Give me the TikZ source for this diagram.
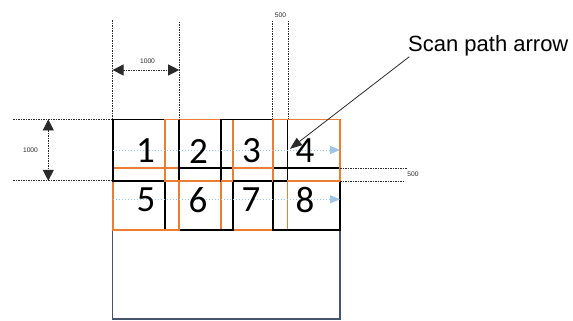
\documentclass[tikz,border=0pt]{standalone}
\usepackage{fontspec}
\setmainfont{Carlito}
\newfontfamily\arialfont{Liberation Sans}
\usetikzlibrary{arrows.meta}
\definecolor{tileorange}{HTML}{ED7D31}
\definecolor{scanblue}{HTML}{9DC3E6}
\definecolor{slate}{HTML}{44546A}
\definecolor{dimgray}{HTML}{2A2A2A}
\begin{document}
\begin{tikzpicture}[x=1bp,y=-1bp,
  blacktile/.style={draw=black,line width=1.8bp},
  orangetile/.style={draw=tileorange,line width=1.8bp},
  dimline/.style={draw=dimgray,line width=0.8bp,dash pattern=on 1.5bp off 1bp},
  dimarrow/.style={dimline,{Triangle[length=11bp,width=11bp]}-{Triangle[length=11bp,width=11bp]}},
  scanpath/.style={draw=scanblue,line width=0.9bp,dash pattern=on 1.5bp off 1.5bp,-{Triangle[length=10bp,width=8bp]}},
  tilenum/.style={font=\fontsize{37bp}{40bp}\selectfont,inner sep=0pt},
  dimlabel/.style={font=\arialfont\fontsize{6.7bp}{8bp}\selectfont,text=dimgray,inner sep=0pt},
  calloutlabel/.style={font=\arialfont\fontsize{22bp}{26bp}\selectfont,inner sep=0pt,anchor=base west},
]
\useasboundingbox (0,0) rectangle (573,320);

% scan area
\draw[slate,line width=1.5bp] (112.6,119.4) rectangle (340,319);

% row 2 tiles
\draw[orangetile] (220.6,168.3) rectangle (287.4,229.7);
\draw[blacktile]  (165.2,168.3) rectangle (232.8,229.7);
\draw[orangetile] (112.6,168.3) rectangle (179.2,229.7);
\draw[blacktile]  (272.8,168.3) rectangle (340,229.7);

% row 1 tiles
\draw[blacktile]  (112.6,119.4) rectangle (179.2,180.8);
\draw[orangetile] (165.2,119.4) rectangle (232.8,180.8);
\draw[blacktile]  (220.6,119.4) rectangle (287.4,180.8);
\draw[orangetile] (272.8,119.4) rectangle (340,180.8);
\draw[orangetile] (220.6,180.8) -- (232.8,180.8);
\draw[blacktile]  (272.8,180.8) -- (287.4,180.8);

% scan paths
\coordinate (s1a) at (112.6,150);
\coordinate (s1b) at (340,150);
\coordinate (s2a) at (112.6,199.3);
\coordinate (s2b) at (340,199.3);
\draw[scanpath] (s1a) -- (s1b);
\draw[scanpath] (s2a) -- (s2b);

% tile numbers
\node[tilenum] (n1) at (145.5,151) {1};
\node[tilenum] (n2) at (198.5,151) {2};
\node[tilenum] (n3) at (251.5,151) {3};
\node[tilenum] (n4) at (305,151) {4};
\node[tilenum] (n5) at (146,200) {5};
\node[tilenum] (n6) at (198,200) {6};
\node[tilenum] (n7) at (251,200) {7};
\node[tilenum] (n8) at (305,200) {8};

% top dimension 1000
\coordinate (dA1) at (112.6,20);
\coordinate (dA2) at (112.6,119.4);
\coordinate (dB1) at (179.2,21.7);
\coordinate (dB2) at (179.2,119.4);
\draw[dimline] (dA1) -- (dA2);
\draw[dimline] (dB1) -- (dB2);
\coordinate (hA) at (112.6,70);
\coordinate (hB) at (179.2,70);
\draw[dimarrow] (hA) -- (hB);
\node[dimlabel] (lblTop) at (147.5,61.5) {1000};

% left dimension 1000
\coordinate (lT1) at (13,119.4);
\coordinate (lT2) at (112.6,119.4);
\coordinate (lB1) at (13,180.8);
\coordinate (lB2) at (112.6,180.8);
\draw[dimline] (lT1) -- (lT2);
\draw[dimline] (lB1) -- (lB2);
\coordinate (vT) at (48.3,119.4);
\coordinate (vB) at (48.3,180.8);
\draw[dimarrow] (vT) -- (vB);
\node[dimlabel] (lblLeft) at (30.5,150.5) {1000};

% top overlap 500
\coordinate (oA1) at (272.8,20.7);
\coordinate (oA2) at (272.8,119.4);
\coordinate (oB1) at (288,20.7);
\coordinate (oB2) at (288,119.4);
\draw[dimline] (oA1) -- (oA2);
\draw[dimline] (oB1) -- (oB2);
\node[dimlabel] (lblOvTop) at (280.5,15) {500};

% right overlap 500
\coordinate (rA1) at (340,168.3);
\coordinate (rA2) at (406.5,168.3);
\coordinate (rB1) at (340,181.5);
\coordinate (rB2) at (405,181.5);
\draw[dimline] (rA1) -- (rA2);
\draw[dimline] (rB1) -- (rB2);
\node[dimlabel] (lblOvRight) at (413,174.5) {500};

% callout
\node[calloutlabel] (callout) at (408,51) {Scan path arrow};
\coordinate (calloutTail) at (409.3,56.7);
\coordinate (calloutTip) at (290,148.8);
\draw[dimgray,line width=0.8bp,-{Triangle[length=12bp,width=9bp]}] (calloutTail) -- (calloutTip);
\end{tikzpicture}
\end{document}
